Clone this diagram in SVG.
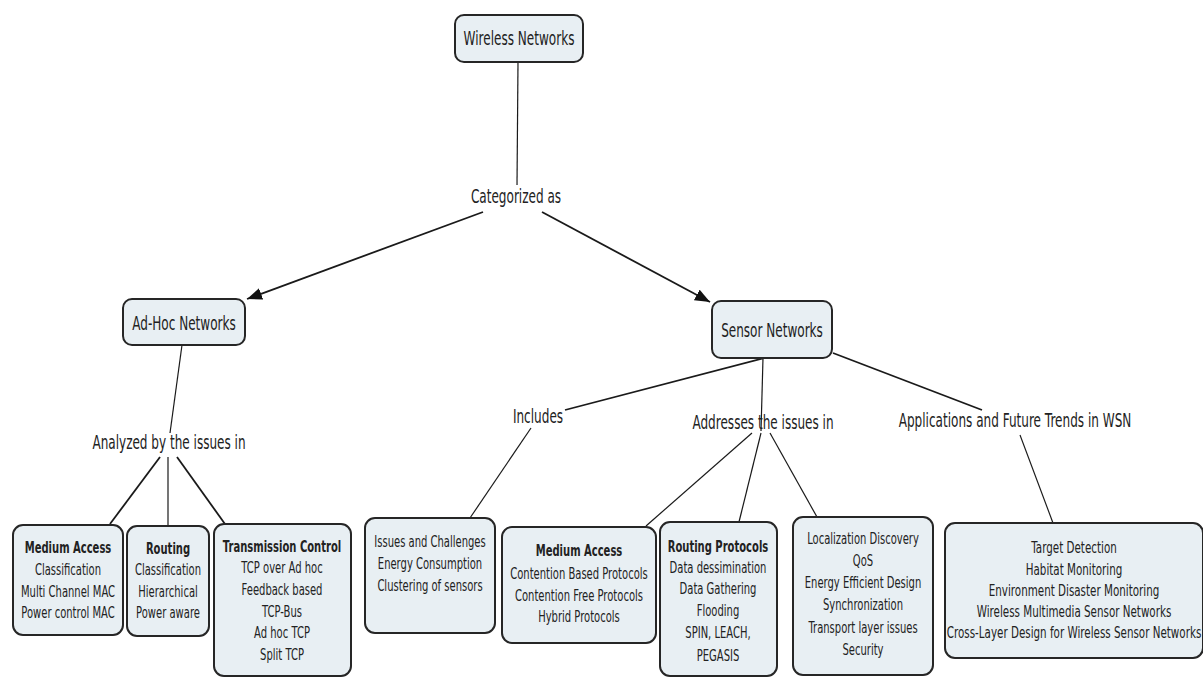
<svg xmlns="http://www.w3.org/2000/svg" width="1203" height="677" viewBox="0 0 1203 677">
<defs>
<marker id="arrow" markerUnits="userSpaceOnUse" markerWidth="16" markerHeight="12" refX="15" refY="6" orient="auto">
<path d="M0,0 L15,6 L0,12 z" fill="#111"/>
</marker>
<style>
.box{fill:#e8eff3;stroke:#262626;stroke-width:2}
.t{font-family:"DejaVu Sans","Liberation Sans",sans-serif;fill:#222;text-anchor:middle}
.big{font-size:20px}
.sm{font-size:15px}
.b{font-weight:bold}
.c{stroke:#1a1a1a;fill:none}
.thin{stroke-width:1.2}
.thick{stroke-width:1.8}
</style>
</defs>
<rect width="1203" height="677" fill="#fff"/>
<g id="connectors">
<line class="c thin" x1="518" y1="62" x2="517" y2="185"/>
<line class="c thick" x1="483" y1="212" x2="247" y2="299" marker-end="url(#arrow)"/>
<line class="c thick" x1="542" y1="212" x2="710" y2="302" marker-end="url(#arrow)"/>
<line class="c thin" x1="182" y1="345" x2="170" y2="433"/>
<line class="c thick" x1="160" y1="457" x2="110" y2="524"/>
<line class="c thin" x1="168" y1="457" x2="168" y2="526"/>
<line class="c thick" x1="177" y1="457" x2="225" y2="524"/>
<line class="c thick" x1="764" y1="358" x2="565" y2="410"/>
<line class="c thin" x1="531" y1="428" x2="470" y2="518"/>
<line class="c thin" x1="763" y1="358" x2="761" y2="431"/>
<line class="c thin" x1="752" y1="433" x2="646" y2="526"/>
<line class="c thin" x1="761" y1="433" x2="739" y2="522"/>
<line class="c thin" x1="770" y1="433" x2="817" y2="517"/>
<line class="c thick" x1="833" y1="353" x2="982" y2="410"/>
<line class="c thin" x1="1020" y1="435" x2="1053" y2="523"/>
</g>
<g id="n-wireless">
<rect class="box" x="455" y="15" width="128" height="47" rx="9"/>
<g transform="translate(519,0) scale(0.603,1)"><text class="t big" x="0" y="45">Wireless Networks</text></g>
</g>
<g id="l-categorized">
<g transform="translate(516,0) scale(0.603,1)"><text class="t big" x="0" y="203">Categorized as</text></g>
</g>
<g id="n-adhoc">
<rect class="box" x="123" y="299" width="122" height="46" rx="9"/>
<g transform="translate(184,0) scale(0.603,1)"><text class="t big" x="0" y="330">Ad-Hoc Networks</text></g>
</g>
<g id="n-sensor">
<rect class="box" x="712" y="301" width="120" height="57" rx="9"/>
<g transform="translate(772,0) scale(0.603,1)"><text class="t big" x="0" y="337">Sensor Networks</text></g>
</g>
<g id="l-analyzed">
<g transform="translate(169,0) scale(0.603,1)"><text class="t big" x="0" y="449">Analyzed by the issues in</text></g>
</g>
<g id="l-includes">
<g transform="translate(538,0) scale(0.603,1)"><text class="t big" x="0" y="423">Includes</text></g>
</g>
<g id="l-addresses">
<g transform="translate(763,0) scale(0.603,1)"><text class="t big" x="0" y="429">Addresses the issues in</text></g>
</g>
<g id="l-applications">
<g transform="translate(1015,0) scale(0.603,1)"><text class="t big" x="0" y="427">Applications and Future Trends in WSN</text></g>
</g>
<g id="n-ma-adhoc">
<rect class="box" x="13" y="525" width="110" height="110" rx="10"/>
<g transform="translate(68,0) scale(0.667,1)" class="t sm">
<text class="t sm b" x="0" y="553">Medium Access</text>
<text x="0" y="575">Classification</text>
<text x="0" y="597">Multi Channel MAC</text>
<text x="0" y="618">Power control MAC</text>
</g>
</g>
<g id="n-routing-adhoc">
<rect class="box" x="127" y="526" width="82" height="110" rx="10"/>
<g transform="translate(168,0) scale(0.667,1)" class="t sm">
<text class="t sm b" x="0" y="554">Routing</text>
<text x="0" y="575">Classification</text>
<text x="0" y="597">Hierarchical</text>
<text x="0" y="618">Power aware</text>
</g>
</g>
<g id="n-tc">
<rect class="box" x="214" y="524" width="137" height="152" rx="10"/>
<g transform="translate(282,0) scale(0.667,1)" class="t sm">
<text class="t sm b" x="0" y="552">Transmission Control</text>
<text x="0" y="573">TCP over Ad hoc</text>
<text x="0" y="595">Feedback based</text>
<text x="0" y="617">TCP-Bus</text>
<text x="0" y="638">Ad hoc TCP</text>
<text x="0" y="660">Split TCP</text>
</g>
</g>
<g id="n-issues">
<rect class="box" x="365" y="518" width="130" height="115" rx="10"/>
<g transform="translate(430,0) scale(0.667,1)" class="t sm">
<text x="0" y="547">Issues and Challenges</text>
<text x="0" y="569">Energy Consumption</text>
<text x="0" y="591">Clustering of sensors</text>
</g>
</g>
<g id="n-ma-sensor">
<rect class="box" x="502" y="527" width="154" height="116" rx="10"/>
<g transform="translate(579,0) scale(0.667,1)" class="t sm">
<text class="t sm b" x="0" y="556">Medium Access</text>
<text x="0" y="579">Contention Based Protocols</text>
<text x="0" y="601">Contention Free Protocols</text>
<text x="0" y="622">Hybrid Protocols</text>
</g>
</g>
<g id="n-routing-protocols">
<rect class="box" x="660" y="522" width="117" height="154" rx="10"/>
<g transform="translate(718,0) scale(0.667,1)" class="t sm">
<text class="t sm b" x="0" y="552">Routing Protocols</text>
<text x="0" y="573">Data dessimination</text>
<text x="0" y="594">Data Gathering</text>
<text x="0" y="616">Flooding</text>
<text x="0" y="638">SPIN, LEACH,</text>
<text x="0" y="661">PEGASIS</text>
</g>
</g>
<g id="n-localization">
<rect class="box" x="793" y="517" width="140" height="158" rx="10"/>
<g transform="translate(863,0) scale(0.667,1)" class="t sm">
<text x="0" y="544">Localization Discovery</text>
<text x="0" y="566">QoS</text>
<text x="0" y="588">Energy Efficient Design</text>
<text x="0" y="610">Synchronization</text>
<text x="0" y="633">Transport layer issues</text>
<text x="0" y="655">Security</text>
</g>
</g>
<g id="n-apps">
<rect class="box" x="945" y="523" width="258" height="135" rx="10"/>
<g transform="translate(1074,0) scale(0.69,1)" class="t sm">
<text x="0" y="553">Target Detection</text>
<text x="0" y="575">Habitat Monitoring</text>
<text x="0" y="596">Environment Disaster Monitoring</text>
<text x="0" y="617">Wireless Multimedia Sensor Networks</text>
<text x="0" y="638">Cross-Layer Design for Wireless Sensor Networks</text>
</g>
</g>
</svg>
